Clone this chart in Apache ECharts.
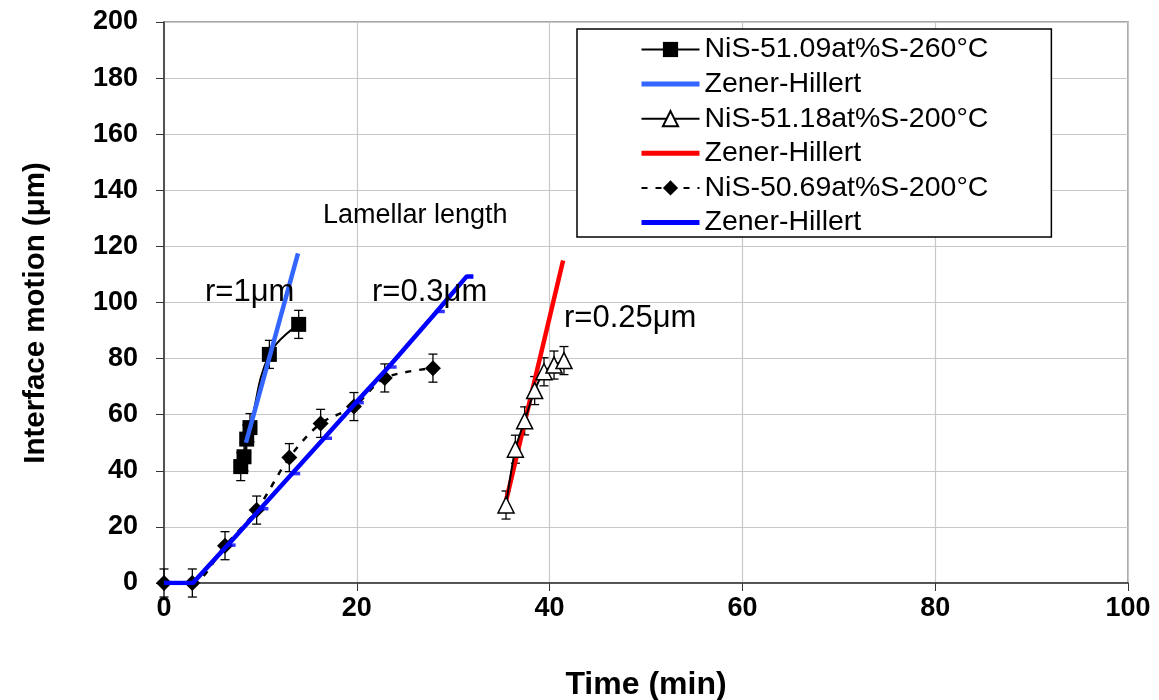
<!DOCTYPE html>
<html><head><meta charset="utf-8">
<script src="https://cdn.jsdelivr.net/npm/echarts@6/dist/echarts.min.js"></script>
<style>html,body{margin:0;padding:0;background:#fff}#c{width:1159px;height:700px}</style>
</head><body><div id="c"></div>
<script>
// ---- data ----
const xTicks = [0, 20, 40, 60, 80, 100];
const yTicks = [0, 20, 40, 60, 80, 100, 120, 140, 160, 180, 200];
const nis260 = [[7.96,41.5],[8.3,45.0],[8.58,51.3],[8.92,55.4],[10.93,81.5],[13.97,92.2]];
const nis260Err = [5,5,5,5,5,5];
const zh260 = [[8.5,50],[13.9,117.5]];
const nis5118 = [[35.48,27.8],[36.45,47.7],[37.41,57.8],[38.45,68.6],[39.42,75.3],[40.46,77.7],[41.49,79.3]];
const nis5118Err = [5,5,5,5,5,5,5];
const zh5118 = [[35.5,29.5],[41.4,115]];
const nis5069 = [[0,0],[2.94,0],[6.33,13.3],[9.61,26],[13.0,44.7],[16.25,56.9],[19.7,62.9],[22.9,73.1],[27.9,76.6]];
const nis5069Err = [5,5,5,5,5,5,5,5,5];
const zh5069 = [[0,0],[3,0],[6.6,13.5],[10.0,26.5],[13.3,39],[16.6,51.6],[19.9,64.3],[23.3,77],[28.3,96.8],[31.4,109.3],[32.1,109.3]];
const zh5069Marks = [[6.6,13.5],[10.0,26.5],[13.3,39],[16.6,51.6],[19.9,64.3],[23.3,77],[28.3,96.8]];
const seriesNames = ['NiS-51.09at%S-260°C','ZH1','NiS-51.18at%S-200°C','ZH2','NiS-50.69at%S-200°C','ZH3'];
const annotations = [
  {text:'r=1μm', x:205, y:292, size:31},
  {text:'r=0.3μm', x:372, y:292, size:31},
  {text:'r=0.25μm', x:564, y:318, size:31},
  {text:'Lamellar length', x:323, y:216, size:27}
];

// ---- build ----
const FONT = '"Liberation Sans", Arial, sans-serif';
const errData = [];
nis260.forEach((p,i)=>errData.push([p[0],p[1],nis260Err[i]]));
nis5118.forEach((p,i)=>errData.push([p[0],p[1],nis5118Err[i]]));
nis5069.forEach((p,i)=>errData.push([p[0],p[1],nis5069Err[i]]));

const zhColors = {ZH1:'#3366ff', ZH2:'#ff0000', ZH3:'#0000ff'};
const legendData = seriesNames.map(n => n.startsWith('ZH')
  ? {name:n, itemStyle:{opacity:0}, lineStyle:{width:5, color:zhColors[n]}}
  : {name:n});

const chart = echarts.init(document.getElementById('c'), null, {renderer:'canvas'});
chart.setOption({
  animation:false,
  backgroundColor:'#fff',
  grid:{left:164, right:31, top:22, bottom:117, show:true, borderColor:'#8c8c8c', borderWidth:1.5,
    backgroundColor:'transparent', containLabel:false, outerBoundsMode:'none'},
  xAxis:{type:'value', min:0, max:100, interval:20,
    name:'Time (min)', nameLocation:'middle', nameGap:86,
    nameTextStyle:{fontFamily:FONT, fontWeight:'bold', fontSize:32, color:'#000'},
    axisLine:{show:true, onZero:false, lineStyle:{color:'#333', width:1.5}},
    axisTick:{show:true, inside:false, length:8, lineStyle:{color:'#333'}},
    axisLabel:{fontFamily:FONT, fontWeight:'bold', fontSize:27, color:'#000', margin:12,
      formatter:v=>xTicks.includes(v)?String(v):''},
    splitLine:{show:true, lineStyle:{color:'#c8c8c8', width:1.2}}},
  yAxis:{type:'value', min:0, max:200, interval:20,
    axisLine:{show:true, onZero:false, lineStyle:{color:'#333', width:1.5}},
    axisTick:{show:true, inside:false, length:8, lineStyle:{color:'#333'}},
    axisLabel:{fontFamily:FONT, fontWeight:'bold', fontSize:27, color:'#000', margin:26,
      formatter:v=>yTicks.includes(v)?String(v):''},
    splitLine:{show:true, lineStyle:{color:'#c8c8c8', width:1.2}}},
  legend:{
    data:legendData, orient:'vertical', left:577, top:29,
    padding:[6,63,0,62], itemGap:5.6, itemWidth:58, itemHeight:19,
    backgroundColor:'#fff', borderColor:'#000', borderWidth:1.5, borderRadius:0,
    textStyle:{fontFamily:FONT, fontSize:28.5, color:'#000', lineHeight:26},
    formatter:n=>n.startsWith('ZH')?'Zener-Hillert':n,
    selectedMode:false
  },
  graphic: annotations.map(a=>({type:'text', z:50, style:{text:a.text, x:a.x, y:a.y, fill:'#000',
    font:`${a.size}px ${FONT}`, textVerticalAlign:'middle', textAlign:'left'}})).concat([
    {type:'text', z:50, x:36, y:313, rotation:Math.PI/2,
      style:{text:'Interface motion (μm)', fill:'#000', font:`bold 29.5px ${FONT}`,
        textAlign:'center', textVerticalAlign:'middle'}}
  ]),
  series:[
    {type:'custom', name:'err', silent:true, z:1, data:errData,
      renderItem:(params, api)=>{
        const x=api.value(0), y=api.value(1), e=api.value(2);
        const top=api.coord([x,y+e]), bot=api.coord([x,y-e]);
        const w=4.5;
        const st={stroke:'#000', lineWidth:1.3};
        return {type:'group', children:[
          {type:'line', shape:{x1:top[0],y1:top[1],x2:bot[0],y2:bot[1]}, style:st},
          {type:'line', shape:{x1:top[0]-w,y1:top[1],x2:top[0]+w,y2:top[1]}, style:st},
          {type:'line', shape:{x1:bot[0]-w,y1:bot[1],x2:bot[0]+w,y2:bot[1]}, style:st}
        ]};
      }},
    {type:'line', name:'NiS-51.09at%S-260°C', data:nis260, z:3, smooth:0.4,
      symbol:'rect', symbolSize:15, showAllSymbol:true,
      lineStyle:{color:'#000', width:2}, itemStyle:{color:'#000'}},
    {type:'line', name:'ZH1', data:zh260, z:4, symbol:'none',
      lineStyle:{color:'#3366ff', width:4.5}, itemStyle:{color:'#3366ff'}},
    {type:'line', name:'NiS-51.18at%S-200°C', data:nis5118, z:5, smooth:0.3,
      symbol:'triangle', symbolSize:16, showAllSymbol:true,
      lineStyle:{color:'#000', width:2}, itemStyle:{color:'#fff', borderColor:'#000', borderWidth:1.5}},
    {type:'line', name:'ZH2', data:zh5118, z:4, symbol:'none',
      lineStyle:{color:'#ff0000', width:4.5}, itemStyle:{color:'#ff0000'}},
    {type:'line', name:'NiS-50.69at%S-200°C', data:nis5069, z:3, smooth:0.3,
      symbol:'diamond', symbolSize:16, showAllSymbol:true,
      lineStyle:{color:'#000', width:2.5, type:[6,8]}, itemStyle:{color:'#000'}},
    {type:'line', name:'ZH3', data:zh5069, z:4, symbol:'none',
      lineStyle:{color:'#0000ff', width:4.5}, itemStyle:{color:'#0000ff'}},
    {type:'scatter', name:'ZH3marks', data:zh5069Marks, z:4, symbol:'rect', symbolSize:[10,3.5],
      symbolOffset:[3,0], itemStyle:{color:'#0000ff'}, silent:true}
  ]
});
</script></body></html>
